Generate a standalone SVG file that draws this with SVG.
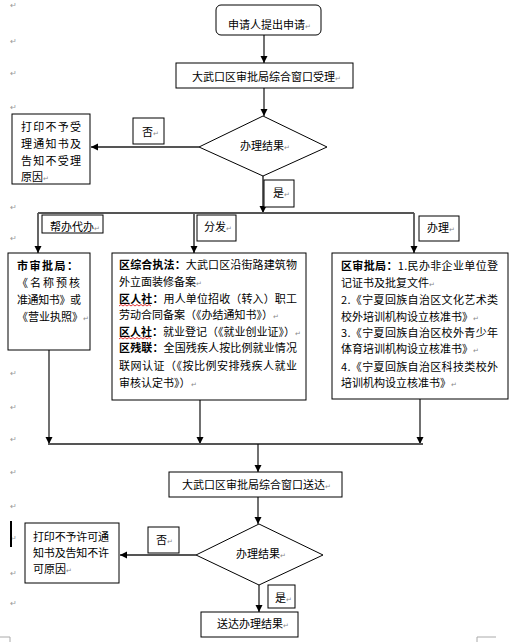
<svg xmlns="http://www.w3.org/2000/svg" width="528" height="642" viewBox="0 0 528 642">
<defs>
<marker id="ah" markerWidth="8" markerHeight="8" refX="7" refY="4" orient="auto" markerUnits="userSpaceOnUse">
<path d="M0,0.5 L7,4 L0,7.5 Z" fill="#000"/>
</marker>
<style>
text{font-family:"Noto Sans CJK SC","Liberation Sans",sans-serif;font-size:11px;fill:#000}
.b{font-weight:bold}
.pm{font-size:7px;fill:#888}
.mg{font-size:8px;fill:#999}
.box{fill:#fff;stroke:#000;stroke-width:1}
.conn{fill:none;stroke:#111;stroke-width:1.2}
.gc{fill:none;stroke:#555;stroke-width:1.8}
.arr{marker-end:url(#ah)}
.wavy{fill:none;stroke:#d00;stroke-width:0.8}
</style>
</defs>
<rect width="528" height="642" fill="#fff"/>

<g id="margin-marks">
<text class="mg" x="10" y="8">↵</text>
<text class="mg" x="10" y="44">↵</text>
<text class="mg" x="10" y="76">↵</text>
<text class="mg" x="10" y="110">↵</text>
<text class="mg" x="10" y="210">↵</text>
<text class="mg" x="10" y="241">↵</text>
<text class="mg" x="10" y="376">↵</text>
<text class="mg" x="10" y="410">↵</text>
<text class="mg" x="10" y="442">↵</text>
<text class="mg" x="10" y="475">↵</text>
<text class="mg" x="10" y="509">↵</text>
<text class="mg" x="10" y="541">↵</text>
<text class="mg" x="10" y="576">↵</text>
<text class="mg" x="10" y="606">↵</text>
<rect x="10" y="521" width="2" height="26" fill="#000"/>
<path d="M0,637 H10 V642 M477,642 V637 H496" fill="none" stroke="#aaa" stroke-width="1"/>
</g>

<g id="connectors">
<line class="conn arr" x1="264" y1="35" x2="264" y2="63"/>
<line class="conn arr" x1="264" y1="88" x2="264" y2="116"/>
<line class="gc arr" x1="199" y1="147" x2="91" y2="147"/>
<line class="gc arr" x1="263" y1="176" x2="263" y2="213"/>
<line class="gc" x1="38" y1="213" x2="414" y2="213"/>
<line class="gc arr" x1="38" y1="213" x2="38" y2="253"/>
<line class="gc arr" x1="194" y1="213" x2="194" y2="253"/>
<line class="gc arr" x1="414" y1="213" x2="414" y2="253"/>
<line class="conn arr" x1="49" y1="350" x2="49" y2="444"/>
<line class="conn arr" x1="200" y1="400" x2="200" y2="444"/>
<line class="conn arr" x1="420" y1="399" x2="420" y2="444"/>
<line class="gc" x1="48" y1="444" x2="423" y2="444"/>
<line class="conn arr" x1="258" y1="444" x2="258" y2="472"/>
<line class="conn arr" x1="258" y1="497" x2="258" y2="524"/>
<line class="gc arr" x1="196" y1="555" x2="120" y2="555"/>
<line class="conn arr" x1="259" y1="585" x2="259" y2="612"/>
</g>

<g id="start">
<rect class="box" x="216" y="5" width="105" height="30" rx="5"/>
<text x="228" y="29">申请人提出申请<tspan class="pm">↵</tspan></text>
</g>

<g id="accept">
<rect class="box" x="176" y="63" width="177" height="25"/>
<text x="192" y="81">大武口区审批局综合窗口受理<tspan class="pm">↵</tspan></text>
</g>

<g id="decision1">
<polygon class="box" points="263,116 327,147 263,176 199,147"/>
<text x="240" y="150">办理结果<tspan class="pm">↵</tspan></text>
</g>

<g id="label-no1">
<rect class="box" x="133" y="118" width="31" height="26"/>
<text x="142" y="136">否<tspan class="pm">↵</tspan></text>
</g>

<g id="reject1">
<rect class="box" x="12" y="114" width="78" height="70"/>
<text x="21" y="131" textLength="60" lengthAdjust="spacing">打印不予受</text>
<text x="21" y="148" textLength="60" lengthAdjust="spacing">理通知书及</text>
<text x="21" y="165" textLength="60" lengthAdjust="spacing">告知不受理</text>
<text x="21" y="181">原因<tspan class="pm">↵</tspan></text>
</g>

<g id="label-yes1">
<rect class="box" x="264" y="180" width="30" height="27"/>
<text x="273" y="197">是<tspan class="pm">↵</tspan></text>
</g>

<g id="label-help">
<rect class="box" x="42" y="215" width="61" height="18"/>
<text x="50" y="231">帮办代办<tspan class="pm">↵</tspan></text>
</g>

<g id="label-dispatch">
<rect class="box" x="197" y="215" width="39" height="26"/>
<text x="204" y="231">分发<tspan class="pm">↵</tspan></text>
</g>

<g id="label-handle">
<rect class="box" x="419" y="216" width="40" height="25"/>
<text x="427" y="232">办理<tspan class="pm">↵</tspan></text>
</g>

<g id="city-approval">
<rect class="box" x="8" y="253" width="82" height="97"/>
<text x="17" y="270" class="b" textLength="61" lengthAdjust="spacing">市审批局：</text>
<text x="17" y="287" textLength="63" lengthAdjust="spacing">《名称预核</text>
<text x="17" y="304" textLength="64" lengthAdjust="spacing">准通知书》或</text>
<text x="17" y="321">《营业执照》<tspan class="pm">↵</tspan></text>
</g>

<g id="district-dispatch">
<rect class="box" x="112" y="253" width="194" height="147"/>
<text x="119" y="269" textLength="178" lengthAdjust="spacing"><tspan class="b">区综合执法：</tspan>大武口区沿街路建筑物</text>
<text x="119" y="286">外立面装修备案<tspan class="pm">↵</tspan></text>
<text x="119" y="303" textLength="178" lengthAdjust="spacing"><tspan class="b">区人社：</tspan>用人单位招收（转入）职工</text>
<text x="119" y="319">劳动合同备案（《办结通知书》）<tspan class="pm">↵</tspan></text>
<text x="119" y="336"><tspan class="b">区人社：</tspan>就业登记（《就业创业证》）<tspan class="pm">↵</tspan></text>
<text x="119" y="352" textLength="178" lengthAdjust="spacing"><tspan class="b">区残联：</tspan>全国残疾人按比例就业情况</text>
<text x="119" y="370" textLength="178" lengthAdjust="spacing">联网认证（《按比例安排残疾人就业</text>
<text x="119" y="387">审核认定书》）<tspan class="pm">↵</tspan></text>
<path class="wavy" d="M119,306 l2,-1.5 l2,1.5 l2,-1.5 l2,1.5 l2,-1.5 l2,1.5 l2,-1.5 l2,1.5 l2,-1.5 l2,1.5 l2,-1.5 l2,1.5 l2,-1.5 l2,1.5 l2,-1.5 l2,1.5"/>
<path class="wavy" d="M119,339 l2,-1.5 l2,1.5 l2,-1.5 l2,1.5 l2,-1.5 l2,1.5 l2,-1.5 l2,1.5 l2,-1.5 l2,1.5 l2,-1.5 l2,1.5 l2,-1.5 l2,1.5 l2,-1.5 l2,1.5"/>
</g>

<g id="district-handle">
<rect class="box" x="332" y="253" width="176" height="146"/>
<text x="341" y="270" textLength="157" lengthAdjust="spacing"><tspan class="b">区审批局：</tspan>1.民办非企业单位登</text>
<text x="341" y="287">记证书及批复文件<tspan class="pm">↵</tspan></text>
<text x="341" y="304" textLength="157" lengthAdjust="spacing">2.《宁夏回族自治区文化艺术类</text>
<text x="341" y="321">校外培训机构设立核准书》<tspan class="pm">↵</tspan></text>
<text x="341" y="337" textLength="157" lengthAdjust="spacing">3.《宁夏回族自治区校外青少年</text>
<text x="341" y="353">体育培训机构设立核准书》<tspan class="pm">↵</tspan></text>
<text x="341" y="371" textLength="157" lengthAdjust="spacing">4.《宁夏回族自治区科技类校外</text>
<text x="341" y="387">培训机构设立核准书》<tspan class="pm">↵</tspan></text>
</g>

<g id="deliver">
<rect class="box" x="169" y="472" width="173" height="25"/>
<text x="182" y="489">大武口区审批局综合窗口送达<tspan class="pm">↵</tspan></text>
</g>

<g id="decision2">
<polygon class="box" points="259,524 323,555 259,585 196,555"/>
<text x="236" y="558">办理结果<tspan class="pm">↵</tspan></text>
</g>

<g id="label-no2">
<rect class="box" x="148" y="527" width="31" height="26"/>
<text x="156" y="544">否<tspan class="pm">↵</tspan></text>
</g>

<g id="reject2">
<rect class="box" x="25" y="523" width="94" height="60"/>
<text x="33" y="541" textLength="76" lengthAdjust="spacing">打印不予许可通</text>
<text x="33" y="557" textLength="76" lengthAdjust="spacing">知书及告知不许</text>
<text x="33" y="573">可原因<tspan class="pm">↵</tspan></text>
</g>

<g id="label-yes2">
<rect class="box" x="268" y="585" width="27" height="23"/>
<text x="275" y="602">是<tspan class="pm">↵</tspan></text>
</g>

<g id="result">
<rect class="box" x="201" y="612" width="97" height="25"/>
<text x="217" y="628">送达办理结果<tspan class="pm">↵</tspan></text>
</g>
</svg>
